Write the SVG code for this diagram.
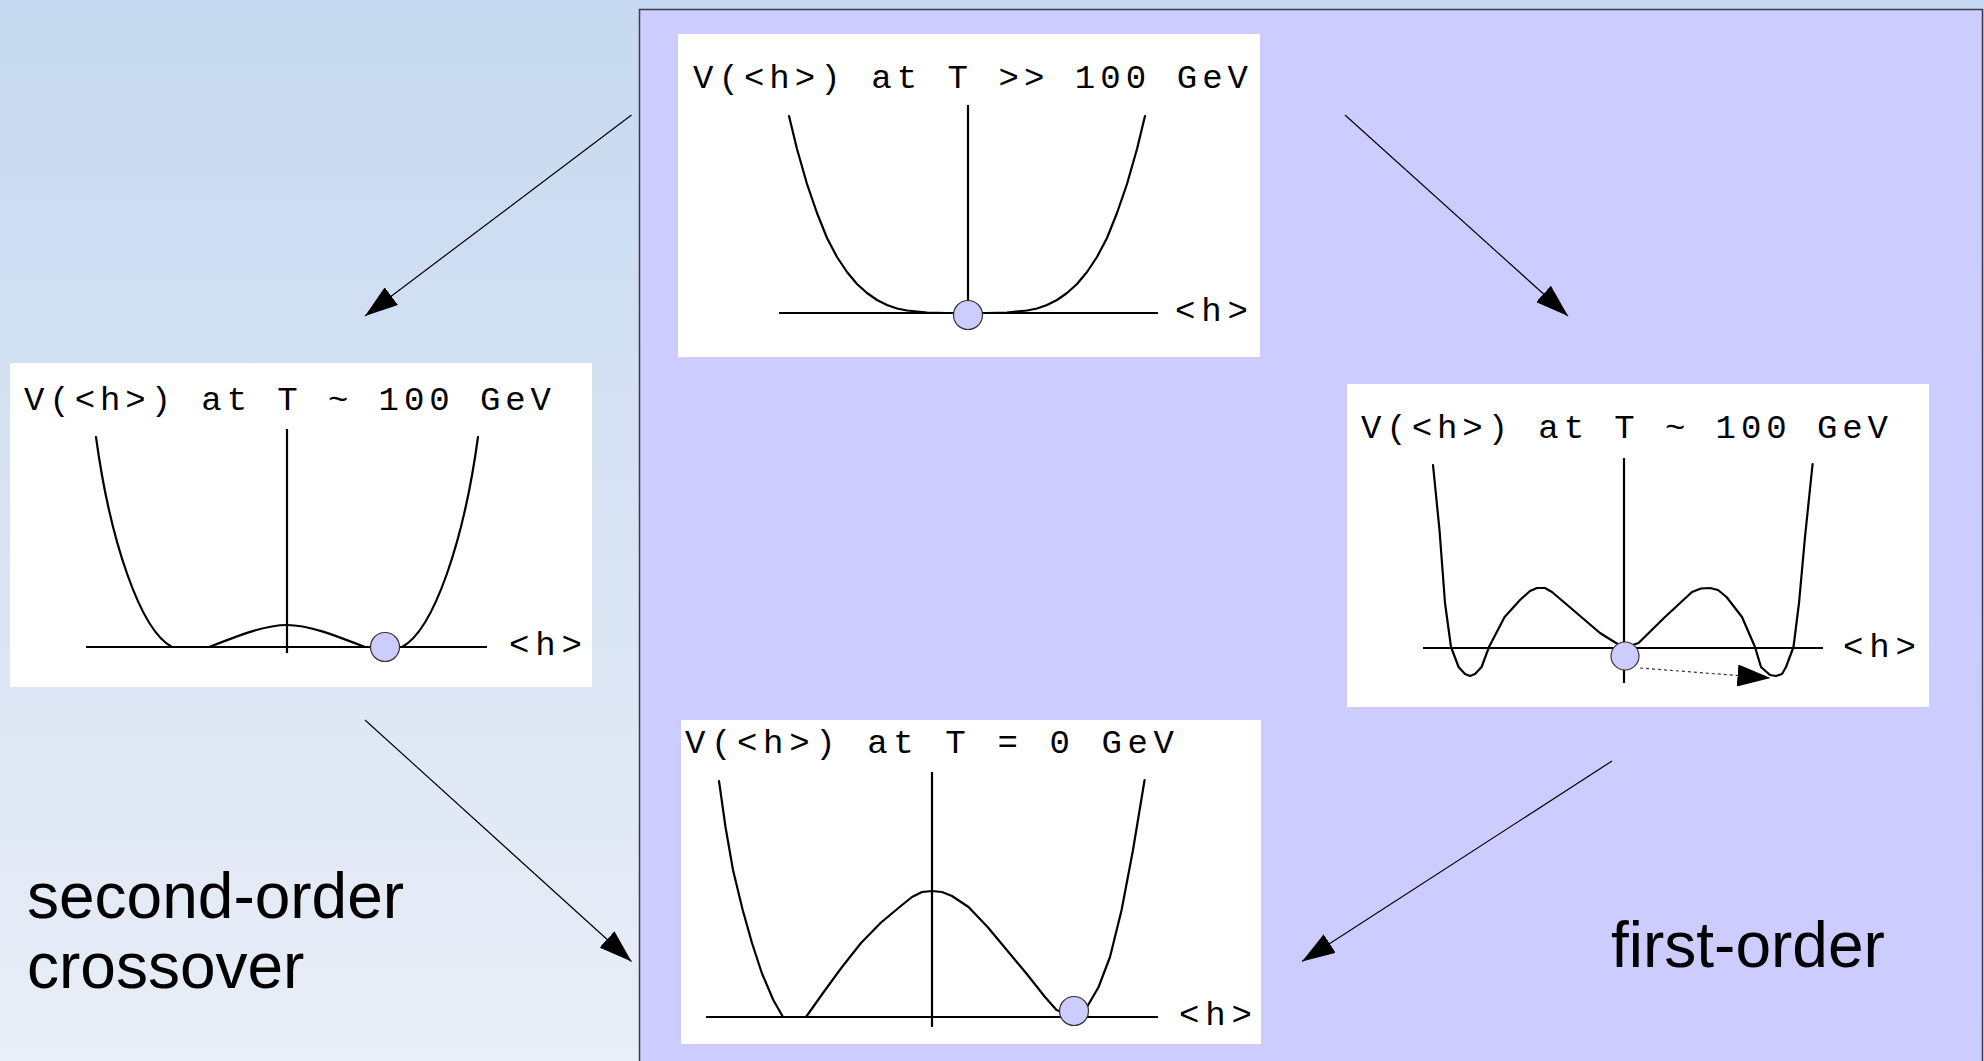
<svg xmlns="http://www.w3.org/2000/svg" width="1984" height="1061" viewBox="0 0 1984 1061">
<defs>
<linearGradient id="bg" x1="0" y1="0" x2="0" y2="1">
<stop offset="0" stop-color="#c6d9f0"/>
<stop offset="1" stop-color="#e9eef7"/>
</linearGradient>
<marker id="ah" markerUnits="userSpaceOnUse" markerWidth="34" markerHeight="22" refX="33" refY="11" orient="auto">
<path d="M0,0 L33,11 L0,22 z" fill="#000"/>
</marker>
</defs>
<style>
.box{fill:#ffffff;stroke:none}
.axis{stroke:#000;stroke-width:2.2;fill:none}
.curve{stroke:#000;stroke-width:2.2;fill:none;stroke-linejoin:round;stroke-linecap:round}
.ball{fill:#ccccff;stroke:#333333;stroke-width:1.2}
.mono{font-family:"Liberation Mono","DejaVu Sans Mono",monospace;font-size:34px;fill:#000}
.big{font-family:"Liberation Sans",Arial,sans-serif;font-size:64px;fill:#000}
.conn{stroke:#000;stroke-width:1.2;fill:none;marker-end:url(#ah)}
</style>
<rect x="0" y="0" width="1984" height="1061" fill="url(#bg)"/>
<rect id="panel" x="639.5" y="9.5" width="1343" height="1060" fill="#ccccff" stroke="#3a3a4a" stroke-width="1.5"/>

<g id="node-high-T">
<rect class="box" x="678" y="34" width="582" height="323"/>
<text class="mono" x="693" y="88" textLength="555" lengthAdjust="spacing">V(&lt;h&gt;) at T &gt;&gt; 100 GeV</text>
<line class="axis" x1="968" y1="105" x2="968" y2="313"/>
<line class="axis" x1="779" y1="313" x2="1158" y2="313"/>
<path class="curve" d="M789,116 L797,149 L807,184 L817,213 L827,238 L837,257 L847,272 L857,284 L867,293 L877,300 L887,305 L897,308.5 L907,310.5 L927,312.5 L947,313 L987,313 L1007,312.5 L1027,310.5 L1037,308.5 L1047,305 L1057,300 L1067,293 L1077,284 L1087,272 L1097,257 L1107,238 L1117,213 L1127,184 L1137,149 L1145,116"/>
<circle class="ball" cx="968" cy="315" r="14.5"/>
<text class="mono" x="1175" y="321" textLength="73" lengthAdjust="spacing">&lt;h&gt;</text>
</g>

<g id="node-second-order">
<rect class="box" x="10" y="363" width="582" height="324"/>
<text class="mono" x="24" y="410" textLength="527" lengthAdjust="spacing">V(&lt;h&gt;) at T ~ 100 GeV</text>
<line class="axis" x1="287" y1="429" x2="287" y2="653"/>
<line class="axis" x1="86" y1="647" x2="487" y2="647"/>
<path class="curve" d="M96,437 C110,540 140,630 172,647 L209,647 C240,635 265,625 287,625 C309,625 334,635 365,647 L402,647 C434,630 464,540 478,437"/>
<circle class="ball" cx="385" cy="647" r="14.5"/>
<text class="mono" x="509" y="655" textLength="73" lengthAdjust="spacing">&lt;h&gt;</text>
</g>

<g id="node-first-order">
<rect class="box" x="1347" y="384" width="582" height="323"/>
<text class="mono" x="1361" y="438" textLength="527" lengthAdjust="spacing">V(&lt;h&gt;) at T ~ 100 GeV</text>
<line class="axis" x1="1624" y1="458" x2="1624" y2="683"/>
<line class="axis" x1="1423" y1="648" x2="1823" y2="648"/>
<path class="curve" d="M1433,465 L1439.5,530 L1445,603 L1451,647 L1458.6,667 L1465,674 L1470,676 L1475,674 L1481.6,667 L1489,647 L1504.6,617 L1520,600 L1530,591 L1537,588 L1545,588 L1552,592 L1569.6,607 L1600,633 L1624,648 L1638.5,643 L1665,617 L1692,592 L1701,588.5 L1710,588 L1718,590 L1726.5,597 L1742,617 L1755,647 L1761,667 L1770,675 L1776,676 L1782,674 L1786,667 L1793.5,647 L1799,603 L1805,537 L1812.6,464"/>
<circle class="ball" cx="1625" cy="656" r="14"/>
<line x1="1640" y1="668" x2="1770.5" y2="678" stroke="#333" stroke-width="1.2" stroke-dasharray="3,3" marker-end="url(#ah)"/>
<text class="mono" x="1843" y="657" textLength="73" lengthAdjust="spacing">&lt;h&gt;</text>
</g>

<g id="node-zero-T">
<rect class="box" x="681" y="720" width="580" height="324"/>
<text class="mono" x="685" y="753" textLength="489" lengthAdjust="spacing">V(&lt;h&gt;) at T = 0 GeV</text>
<line class="axis" x1="932" y1="772" x2="932" y2="1027"/>
<line class="axis" x1="706" y1="1017" x2="1158" y2="1017"/>
<path class="curve" d="M719,781 L725.5,827 L733,870 L742.7,910 L752,943 L761.8,973 L773.3,1000 L783,1017 L806,1017 L823,993 L842,967 L861,943 L880.5,923 L899.6,907 L912,897 L922,892 L932,891 L942,892 L952,896 L968.5,907 L987.6,927 L1006.8,950 L1026,973 L1045,997 L1056.5,1010 L1075,1017 L1087,1007 L1098.6,987 L1110,957 L1121.6,910 L1133,850 L1144.6,780"/>
<circle class="ball" cx="1074" cy="1011" r="14.5"/>
<text class="mono" x="1179" y="1025" textLength="73" lengthAdjust="spacing">&lt;h&gt;</text>
</g>

<g id="connectors">
<line class="conn" x1="631.5" y1="115" x2="365" y2="316"/>
<line class="conn" x1="1345" y1="115" x2="1568" y2="316"/>
<line class="conn" x1="365" y1="720" x2="631.5" y2="961.5"/>
<line class="conn" x1="1612" y1="761" x2="1302" y2="961.5"/>
</g>

<g id="labels">
<text class="big" x="27" y="918">second-order</text>
<text class="big" x="27" y="988">crossover</text>
<text class="big" x="1611" y="967">first-order</text>
</g>
</svg>
